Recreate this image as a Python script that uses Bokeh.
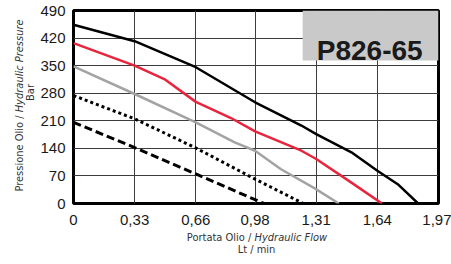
from bokeh.plotting import figure
from bokeh.models import Range1d, FixedTicker, Div
from bokeh.layouts import row, column
from bokeh.core.properties import value
from bokeh.embed import file_html
from bokeh.resources import INLINE

# Data
x_ticks = [0, 0.33, 0.66, 0.98, 1.31, 1.64, 1.97]
x_tick_labels = ["0", "0,33", "0,66", "0,98", "1,31", "1,64", "1,97"]
y_ticks = [0, 70, 140, 210, 280, 350, 420, 490]

black_x = [0, 0.33, 0.66, 0.98, 1.23, 1.31, 1.50, 1.64, 1.75, 1.86]
black_y = [454, 412, 346, 257, 198, 176, 130, 83, 49, 0]

red_x = [0, 0.33, 0.49, 0.66, 0.85, 0.98, 1.23, 1.31, 1.50, 1.665]
red_y = [407, 350, 316, 258, 217, 183, 134, 113, 53, 0]

gray_x = [0, 0.33, 0.66, 0.87, 0.98, 1.12, 1.30, 1.432]
gray_y = [348, 278, 206, 155, 134, 87, 39, 0]

dotted_x = [0, 0.33, 0.66, 0.98, 1.24]
dotted_y = [274, 215, 141, 62, 0]

dashed_x = [0, 0.33, 0.66, 1.028]
dashed_y = [206, 142, 75, 0]

title_text = "P826-65"
x_label_1 = "Portata Olio / "
x_label_1i = "Hydraulic Flow"
x_label_2 = "Lt / min"
y_label_1 = "Pressione Olio / "
y_label_1i = "Hydraulic Pressure"
y_label_2 = "Bar"

FONT = "Liberation Sans"
CSS_FONT = "'DejaVu Sans Condensed', 'Liberation Sans', sans-serif"

YW = 36          # width of the y-label strip
XH = 36          # height of the x-label strip
W, H = 451, 264
PW, PH = W - YW, H - XH

p = figure(width=PW, height=PH, output_backend="svg", toolbar_location=None,
           x_range=Range1d(0, 1.97), y_range=Range1d(0, 490),
           min_border_left=73 - YW, min_border_right=13, min_border_top=10,
           min_border_bottom=PH - 203)

p.outline_line_color = "black"
p.outline_line_width = 3
p.background_fill_color = "white"
p.border_fill_color = "white"

for ax in (p.xaxis[0], p.yaxis[0]):
    ax.axis_line_color = None
    ax.major_tick_line_color = None
    ax.minor_tick_line_color = None
    ax.major_label_text_font = FONT
    ax.major_label_text_font_size = "15px"
    ax.major_label_text_color = "#1a1a1a"

p.xaxis.ticker = FixedTicker(ticks=x_ticks)
p.xaxis.major_label_overrides = {t: l for t, l in zip(x_ticks, x_tick_labels)}
p.xaxis.major_label_standoff = 5
p.yaxis.ticker = FixedTicker(ticks=y_ticks)
p.yaxis.major_label_standoff = 2

p.xgrid.ticker = FixedTicker(ticks=x_ticks)
p.ygrid.ticker = FixedTicker(ticks=y_ticks)
for g in (p.xgrid[0], p.ygrid[0]):
    g.grid_line_color = "#3c3c3c"
    g.grid_line_width = 1

# title box
p.quad(left=1.237, right=1.97, bottom=363, top=490, fill_color="#c9c9c9", line_color=None)
p.text(x=[(1.237 + 1.97) / 2 - 0.005], y=[388], text=[title_text], text_align="center",
       text_baseline="alphabetic", text_font_size="28px", text_font_style="bold",
       text_color="#1a1a1a", text_font=value(FONT))

p.line(dashed_x, dashed_y, line_color="black", line_width=3, line_dash="8 4")
p.line(dotted_x, dotted_y, line_color="black", line_width=3, line_dash="3 3")
p.line(gray_x, gray_y, line_color="#a3a3a3", line_width=2.5)
p.line(red_x, red_y, line_color="#e8253d", line_width=2.5)
p.line(black_x, black_y, line_color="black", line_width=2.5)

base = (f"position:absolute; white-space:nowrap; text-align:center; font-family:{CSS_FONT};"
        f" font-size:11px; line-height:11px; color:#333333; margin:0; padding:0;")

def line_div(cx, cy, html, rotate=False, w=240):
    rot = " transform:rotate(-90deg);" if rotate else ""
    return (f'<div style="{base} left:{cx - w / 2}px; top:{cy - 5.5}px; width:{w}px;'
            f' height:11px;{rot}">{html}</div>')

# y-label strip (page x 0..YW)
y_html = (f'<div style="position:relative; width:{YW}px; height:{H}px; overflow:visible;">'
          + line_div(18.5, 105, f"{y_label_1}<i>{y_label_1i}</i>", rotate=True)
          + line_div(29.5, 92, y_label_2, rotate=True)
          + '</div>')
ydiv = Div(text=y_html, width=YW, height=H, margin=0)

# x-label strip (page y PH..H, page x YW..W)
x_html = (f'<div style="position:relative; width:{PW}px; height:{XH}px; overflow:visible;">'
          + line_div(257 - YW, 237.5 - PH, f"{x_label_1}<i>{x_label_1i}</i>")
          + line_div(256.5 - YW, 249 - PH, x_label_2)
          + '</div>')
xdiv = Div(text=x_html, width=PW, height=XH, margin=0)

layout = row(ydiv, column(p, xdiv, spacing=0), spacing=0)

open("out.html", "w").write(file_html(layout, INLINE))
